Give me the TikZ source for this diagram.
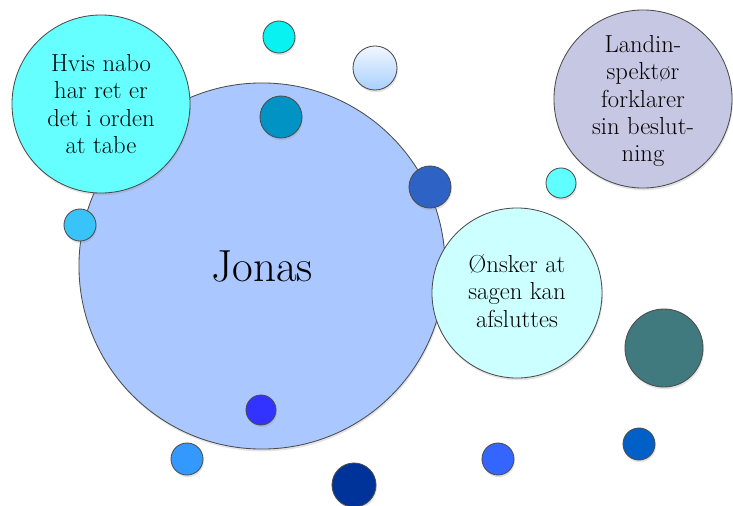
\documentclass[tikz,border=0pt]{standalone}
\usepackage{tikz}
\usetikzlibrary{shadows}

\definecolor{jonasblue}{HTML}{AAC8FF}
\definecolor{naboaqua}{HTML}{66FFFF}
\definecolor{onskeraqua}{HTML}{CCFFFF}
\definecolor{landinlav}{HTML}{C5C7E3}
\definecolor{deepteal}{HTML}{407A7E}
\definecolor{dotcyan}{HTML}{08F2F2}
\definecolor{dotpetrol}{HTML}{0093C4}
\definecolor{dotsky}{HTML}{38C4F8}
\definecolor{dotroyal}{HTML}{2E62C4}
\definecolor{dotaqua}{HTML}{60FFFF}
\definecolor{dotcobalt}{HTML}{0060C8}
\definecolor{dotblue}{HTML}{3466FF}
\definecolor{dotviolet}{HTML}{3333FF}
\definecolor{dotazure}{HTML}{3399FF}
\definecolor{dotnavy}{HTML}{003399}
\definecolor{paletop}{HTML}{F2F7FF}
\definecolor{palebot}{HTML}{A8D0FF}

\tikzset{
  bubble/.style={circle, draw=black!70, line width=0.6pt, inner sep=0pt,
    drop shadow={opacity=0.22, shadow xshift=0.6pt, shadow yshift=-1.6pt}},
  bubbletext/.style={align=center, font=\fontsize{17.5}{19.5}\selectfont}
}

\begin{document}
\begin{tikzpicture}[x=0.025cm, y=-0.025cm]
          \useasboundingbox[fill=white] (0,0) rectangle (733,506);
          \node[bubble, fill=jonasblue, minimum size=9.15cm] (jonas) at (262,266) {};
          \node[font=\fontsize{32}{36}\selectfont] (jonaslabel) at (262,266) {Jonas};
          \node[bubble, fill=naboaqua, minimum size=4.45cm] (nabo) at (101,104) {};
          \node[bubbletext] (nabolabel) at (101,104)
            {Hvis nabo\\har ret er\\det i orden\\at tabe};
          \node[bubble, fill=landinlav, minimum size=4.45cm] (landin) at (643,99) {};
          \node[bubbletext] (landinlabel) at (643,101)
            {Landin-\\spektør\\forklarer\\sin beslut-\\ning};
          \node[bubble, fill=onskeraqua, minimum size=4.25cm] (onsker) at (517,293) {};
          \node[bubbletext] (onskerlabel) at (517,291)
            {Ønsker at\\sagen kan\\afsluttes};
          \node[bubble, fill=deepteal, minimum size=1.95cm] (tealdot) at (664,348) {};
          \node[bubble, fill=dotcyan, minimum size=0.8cm] (cyandot) at (279,37) {};
          \node[bubble, top color=paletop, bottom color=palebot,
            minimum size=1.1cm] (paledot) at (375,68) {};
          \node[bubble, fill=dotpetrol, minimum size=1.05cm] (petroldot) at (281,117) {};
          \node[bubble, fill=dotsky, minimum size=0.8cm] (skydot) at (80,225) {};
          \node[bubble, fill=dotroyal, minimum size=1.05cm] (royaldot) at (430,187) {};
          \node[bubble, fill=dotaqua, minimum size=0.75cm] (aquadot) at (561,183) {};
          \node[bubble, fill=dotcobalt, minimum size=0.8cm] (cobaltdot) at (639,444) {};
          \node[bubble, fill=dotblue, minimum size=0.8cm] (bluedot) at (498,459) {};
          \node[bubble, fill=dotviolet, minimum size=0.75cm] (violetdot) at (261,410) {};
          \node[bubble, fill=dotazure, minimum size=0.8cm] (azuredot) at (187,459) {};
          \node[bubble, fill=dotnavy, minimum size=1.1cm] (navydot) at (354,485) {};
        \end{tikzpicture}
\end{document}
